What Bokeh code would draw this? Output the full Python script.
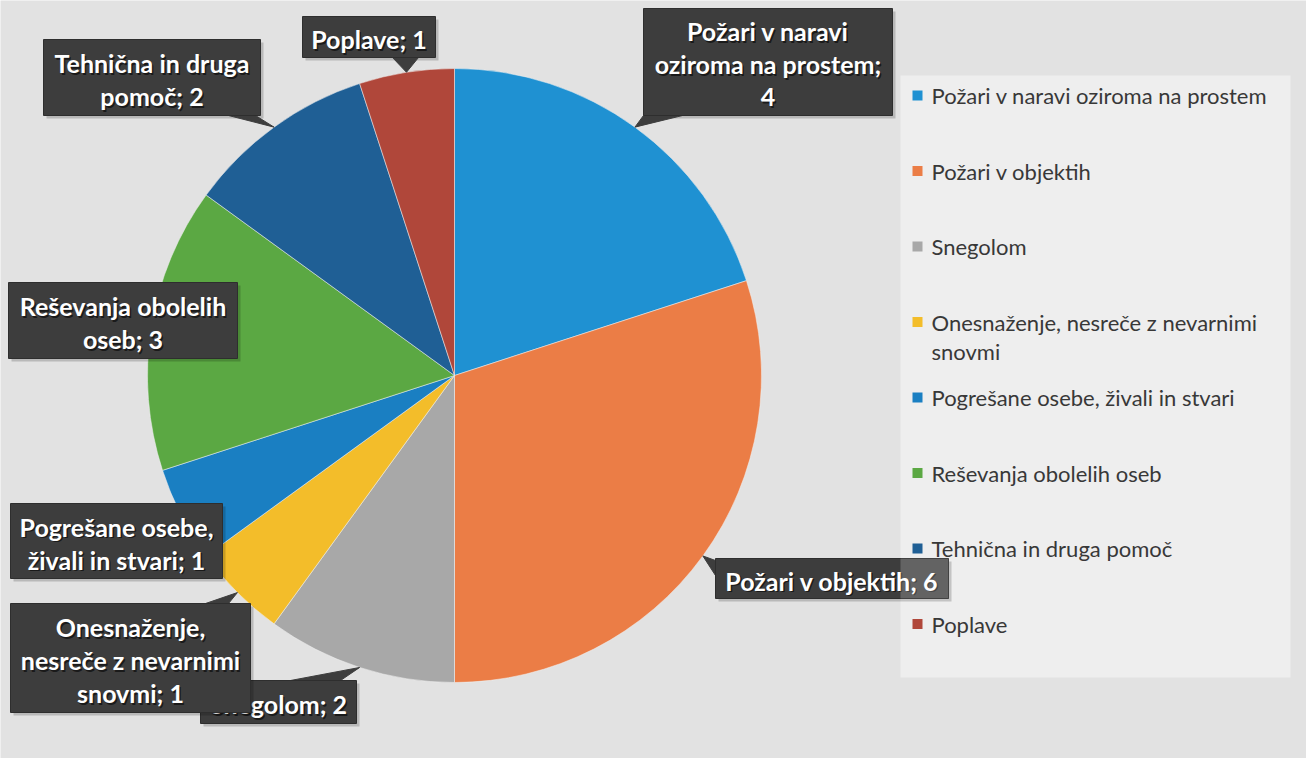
import math
import textwrap
from bokeh.plotting import figure
from bokeh.models import Range1d, ColumnDataSource
from bokeh.core.properties import value
from bokeh.embed import file_html
from bokeh.resources import INLINE

# ---------------- data ----------------
categories = [
    "Požari v naravi oziroma na prostem",
    "Požari v objektih",
    "Snegolom",
    "Onesnaženje, nesreče z nevarnimi snovmi",
    "Pogrešane osebe, živali in stvari",
    "Reševanja obolelih oseb",
    "Tehnična in druga pomoč",
    "Poplave",
]
values = [4, 6, 2, 1, 1, 3, 2, 1]
colors = ["#1f91d2", "#eb7d46", "#a8a8a8", "#f3bd2a", "#1a7fc2", "#5ba843", "#1f5f95", "#b0473a"]

# ---------------- layout (pixels, top-left origin) ----------------
W, H = 1306, 758
CX, CY, R = 454, 375, 307

def Y(y):
    return H - y

# label box: (left, top, right, bottom), wrap width, pointer base points
label_layout = [
    dict(box=(643, 8, 892, 115), wrap=19, base=[(643, 115), (682, 115)]),
    dict(box=(715, 558, 948, 598), wrap=30, base=[(715, 560), (715, 575)]),
    dict(box=(200, 680, 356, 723), wrap=30, base=[(290, 680), (340, 680)]),
    dict(box=(10, 603, 250, 712), wrap=19, base=[(205, 603), (228, 603)]),
    dict(box=(10, 503, 222, 578), wrap=19, base=None),
    dict(box=(8, 282, 237, 358), wrap=19, base=None),
    dict(box=(43, 39, 260, 115), wrap=19, base=[(228, 115), (255, 115)]),
    dict(box=(302, 16, 435, 57), wrap=30, base=[(392, 57), (418, 57)]),
]
LINE_H = 33
LABEL_FS = "25px"

p = figure(width=W, height=H, x_range=Range1d(0, W), y_range=Range1d(0, H),
           x_axis_type=None, y_axis_type=None, toolbar_location=None,
           output_backend="svg", min_border=0,
           background_fill_color="#e2e2e2", border_fill_color="#e2e2e2",
           outline_line_color=None)

# lighter legend panel (scan)
p.quad(left=[900], right=[1290], top=[Y(75)], bottom=[Y(677)],
       fill_color="#eeeeee", line_color=None)

# ---------------- pie ----------------
total = float(sum(values))
cum = [0.0]
for v in values:
    cum.append(cum[-1] + v / total)
starts = [math.pi / 2 - 2 * math.pi * cum[i + 1] for i in range(len(values))]
ends = [math.pi / 2 - 2 * math.pi * cum[i] for i in range(len(values))]
src = ColumnDataSource(dict(cat=categories, val=values, color=colors,
                            start=starts, end=ends))
p.wedge(x=CX, y=Y(CY), radius=R, start_angle="start", end_angle="end",
        direction="anticlock", fill_color="color", line_color="#f4f4f4",
        line_alpha=0.5, line_width=1, source=src)

# ---------------- data labels ----------------
for i, (cat, val) in enumerate(zip(categories, values)):
    lay = label_layout[i]
    l, t, r_, b = lay["box"]
    mid = (cum[i] + cum[i + 1]) / 2 * 2 * math.pi
    tipx = CX + R * math.sin(mid)
    tipy = CY - R * math.cos(mid)
    # shadow
    p.quad(left=[l + 3], right=[r_ + 3], top=[Y(t + 3)], bottom=[Y(b + 3)],
           fill_color="#000000", fill_alpha=0.18, line_color=None)
    if lay["base"]:
        (bx1, by1), (bx2, by2) = lay["base"]
        p.patch([bx1, bx2, tipx], [Y(by1), Y(by2), Y(tipy)],
                fill_color="#3d3d3d", line_color="#3d3d3d", line_width=1)
    p.quad(left=[l], right=[r_], top=[Y(t)], bottom=[Y(b)],
           fill_color="#3d3d3d", line_color="#2e2e2e", line_width=1)
    lines = textwrap.wrap(f"{cat}; {val}", lay["wrap"])
    cx = (l + r_) / 2
    cy = (t + b) / 2 + 2
    n = len(lines)
    ys = [cy + (k - (n - 1) / 2) * LINE_H for k in range(n)]
    p.text(x=[cx + 1.5] * n, y=[Y(yy) - 1.5 for yy in ys], text=lines,
           text_font=value("Lato"), text_font_style="bold", text_font_size=LABEL_FS,
           text_align="center", text_baseline="middle", text_color="#111111",
           text_alpha=0.8)
    p.text(x=[cx] * n, y=[Y(yy) for yy in ys], text=lines,
           text_font=value("Lato"), text_font_style="bold", text_font_size=LABEL_FS,
           text_align="center", text_baseline="middle", text_color="#ffffff")

# lighten the part of the label under the panel (scan effect)
p.quad(left=[900], right=[948], top=[Y(558)], bottom=[Y(598)],
       fill_color="#ffffff", fill_alpha=0.2, line_color=None)

# ---------------- legend ----------------
LEG_Y0, LEG_DY = 95, 75.5
for i, (cat, col) in enumerate(zip(categories, colors)):
    yy = LEG_Y0 + i * LEG_DY
    p.rect(x=[917], y=[Y(yy)], width=10, height=10, fill_color=col, line_color=None)
    lines = textwrap.wrap(cat, 34)
    p.text(x=[931] * len(lines), y=[Y(yy + k * 29) for k in range(len(lines))],
           text=lines, text_font=value("Lato"), text_font_size="22px",
           text_align="left", text_baseline="middle", text_color="#383838")

open("out.html", "w").write(file_html(p, INLINE))
